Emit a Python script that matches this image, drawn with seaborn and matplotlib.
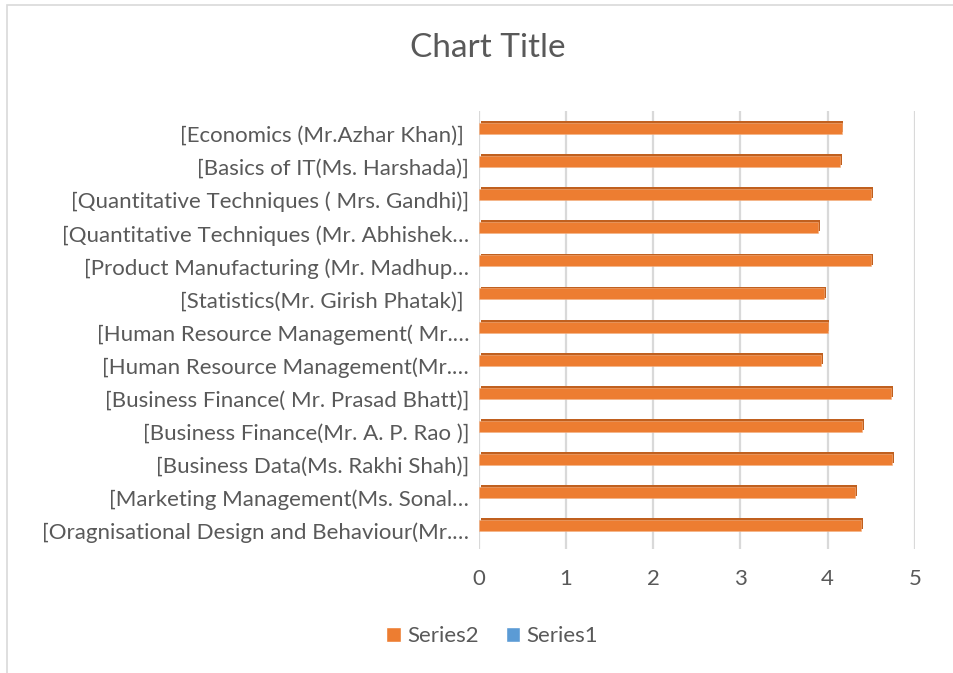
import pandas as pd
import numpy as np
import matplotlib
matplotlib.use("Agg")
import matplotlib.pyplot as plt
import matplotlib.patheffects as pe
from matplotlib.patches import Patch, Rectangle
import seaborn as sns

# ================= DADOS =================
cursos = [
    "[Economics (Mr.Azhar Khan)] ",
    "[Basics of IT(Ms. Harshada)]",
    "[Quantitative Techniques ( Mrs. Gandhi)]",
    "[Quantitative Techniques (Mr. Abhishek…",
    "[Product Manufacturing (Mr. Madhup…",
    "[Statistics(Mr. Girish Phatak)] ",
    "[Human Resource Management( Mr.…",
    "[Human Resource Management(Mr.…",
    "[Business Finance( Mr. Prasad Bhatt)]",
    "[Business Finance(Mr. A. P. Rao )]",
    "[Business Data(Ms. Rakhi Shah)]",
    "[Marketing Management(Ms. Sonal…",
    "[Oragnisational Design and Behaviour(Mr.…",
]
series2 = [4.16, 4.14, 4.50, 3.89, 4.50, 3.96, 4.00, 3.92, 4.73, 4.39, 4.74, 4.31, 4.38]
series1 = [np.nan] * len(cursos)  # Series1 vazia no original

series_nomes = ["Series2", "Series1"]
cores = {"Series2": "#ED7D31", "Series1": "#5B9BD5"}

df = pd.DataFrame({
    "curso": cursos * 2,
    "serie": ["Series2"] * len(cursos) + ["Series1"] * len(cursos),
    "valor": series2 + series1,
})

# ================= FIGURA =================
sns.set_style("white")
plt.rcParams["font.family"] = ["Lato", "DejaVu Sans"]
cinza = "#595959"

fig = plt.figure(figsize=(9.54, 6.73), dpi=100)
ax = fig.add_axes([0.502, 0.1837, 0.457, 0.6517])

sns.barplot(data=df, y="curso", x="valor", hue="serie", hue_order=series_nomes,
            order=cursos, palette=cores, width=0.667, orient="h",
            ax=ax, legend=False, saturation=1, errorbar=None)

# efeito 3D simples
for barra in ax.patches:
    barra.set_path_effects([
        pe.SimplePatchShadow(offset=(1.3, 1.3), shadow_rgbFace="#C0601F", alpha=1.0),
        pe.Normal(),
    ])
    barra.set_edgecolor("#F4B183")
    barra.set_linewidth(0.4)

ax.set_xlim(0, 5)
ax.set_ylim(12.55, -0.7)
ax.set_xticks(range(6))
ax.xaxis.grid(True, color="#D9D9D9", linewidth=1.6)
ax.set_axisbelow(True)
for lado in ax.spines.values():
    lado.set_visible(False)

ax.set_xlabel("")
ax.set_ylabel("")
ax.tick_params(axis="x", colors=cinza, labelsize=16, length=0, pad=14)
ax.tick_params(axis="y", colors=cinza, labelsize=16, length=0, pad=7)

fig.text(0.511, 0.928, "Chart Title", ha="center", va="center", fontsize=24, color=cinza)

handles = [Patch(facecolor=cores[s], label=s) for s in series_nomes]
fig.legend(handles=handles, loc="center", bbox_to_anchor=(0.516, 0.055), ncol=2,
           frameon=False, fontsize=16, labelcolor=cinza, handlelength=0.65,
           handleheight=0.65, handletextpad=0.3, columnspacing=1.2)

# moldura do gráfico
fig.patches.append(Rectangle((7 / 954, -0.01), 1.0, 1 - 5 / 673 + 0.01, transform=fig.transFigure,
                             fill=False, edgecolor="#D9D9D9", linewidth=1.2))

fig.savefig("out.png", dpi=100, facecolor="white")
